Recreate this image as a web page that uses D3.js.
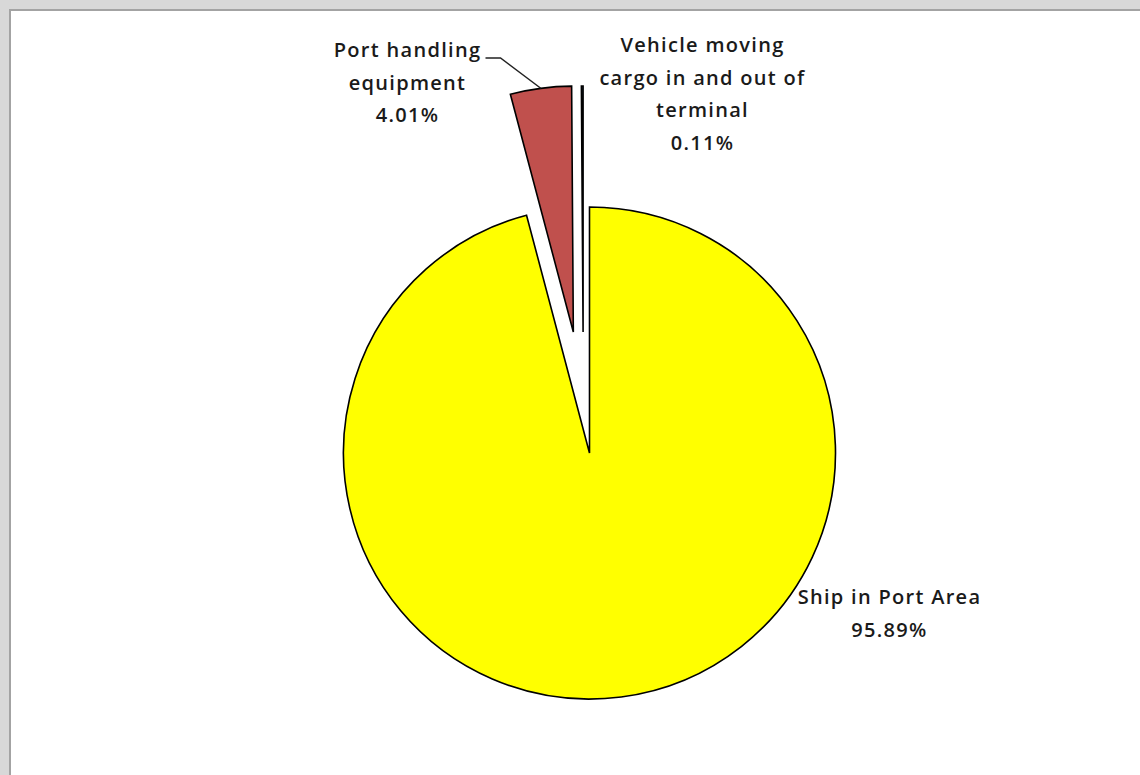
<!DOCTYPE html>
<html>
<head>
<meta charset="utf-8">
<script src="https://cdn.jsdelivr.net/npm/d3@7"></script>
<style>
  html, body { margin: 0; padding: 0; background: #dcdcdc; }
  svg { display: block; }
</style>
</head>
<body>
<div id="chart"></div>
<script>
const categories = ['Ship in Port Area', 'Port handling equipment', 'Vehicle moving cargo in and out of terminal'];
const shares = [95.89, 4.01, 0.11];
const labelLines = [
  ['Ship in Port Area', '95.89%'],
  ['Port handling', 'equipment', '4.01%'],
  ['Vehicle moving', 'cargo in and out of', 'terminal', '0.11%'],
];

const width = 1140;
const height = 775;
const cx = 589.5;
const cy = 453;
const radius = 246;

const colors = ['#FFFF00', '#C0504D', '#4F81BD'];
const explode = [0, 122, 121];
const nudge = [0, 0, -6];

const svg = d3.select('#chart').append('svg')
  .attr('width', width)
  .attr('height', height);

// window frame
svg.append('rect')
  .attr('x', 0).attr('y', 0)
  .attr('width', width).attr('height', height)
  .attr('fill', '#d8d8d8');
svg.append('rect')
  .attr('x', 10).attr('y', 10)
  .attr('width', width).attr('height', height)
  .attr('fill', '#fff')
  .attr('stroke', '#a3a3a3')
  .attr('stroke-width', 2);

const data = categories.map((name, i) => ({ name, value: shares[i], i }));

const pie = d3.pie()
  .sort(null)
  .value(d => d.value);

const arc = d3.arc()
  .innerRadius(0)
  .outerRadius(radius);

const arcs = pie(data);

const offset = (d) => {
  const mid = (d.startAngle + d.endAngle) / 2;
  const k = explode[d.data.i];
  return [Math.sin(mid) * k + nudge[d.data.i], -Math.cos(mid) * k];
};

const g = svg.append('g')
  .attr('transform', `translate(${cx},${cy})`);

g.selectAll('.slice')
  .data(arcs)
  .enter().append('path')
  .attr('class', 'slice')
  .attr('transform', d => `translate(${offset(d)})`)
  .attr('d', arc)
  .style('fill', d => colors[d.data.i])
  .style('stroke', '#000')
  .style('stroke-width', 1.6)
  .style('stroke-linejoin', 'miter');

// label positions relative to the pie centre
const labelPos = [
  { x: 300, y: 151 },
  { x: -182, y: -396 },
  { x: 113, y: -401 },
];

const labels = svg.append('g')
  .attr('transform', `translate(${cx},${cy})`);

labels.selectAll('.label')
  .data(arcs)
  .enter().append('text')
  .attr('class', 'label')
  .attr('x', d => labelPos[d.data.i].x)
  .attr('y', d => labelPos[d.data.i].y)
  .style('font-family', '"Open Sans", "DejaVu Sans", sans-serif')
  .style('font-size', '20px')
  .style('font-weight', 600)
  .style('letter-spacing', '1.3px')
  .style('text-anchor', 'middle')
  .style('fill', '#1a1a1a')
  .each(function (d) {
    const t = d3.select(this);
    labelLines[d.data.i].forEach((line, j) => {
      t.append('tspan')
        .attr('x', labelPos[d.data.i].x)
        .attr('dy', j === 0 ? 0 : 32.5)
        .text(line);
    });
  });

// leader line for the port handling label
const red = arcs[1];
const [ox, oy] = offset(red);
const outer = d3.arc().innerRadius(radius).outerRadius(radius)
  .centroid({ startAngle: red.startAngle, endAngle: red.endAngle });
labels.append('path')
  .attr('d', d3.line()([
    [-104, -395],
    [-89, -395],
    [outer[0] + ox, outer[1] + oy],
  ]))
  .style('fill', 'none')
  .style('stroke', '#222')
  .style('stroke-width', 1.5);
</script>
</body>
</html>
